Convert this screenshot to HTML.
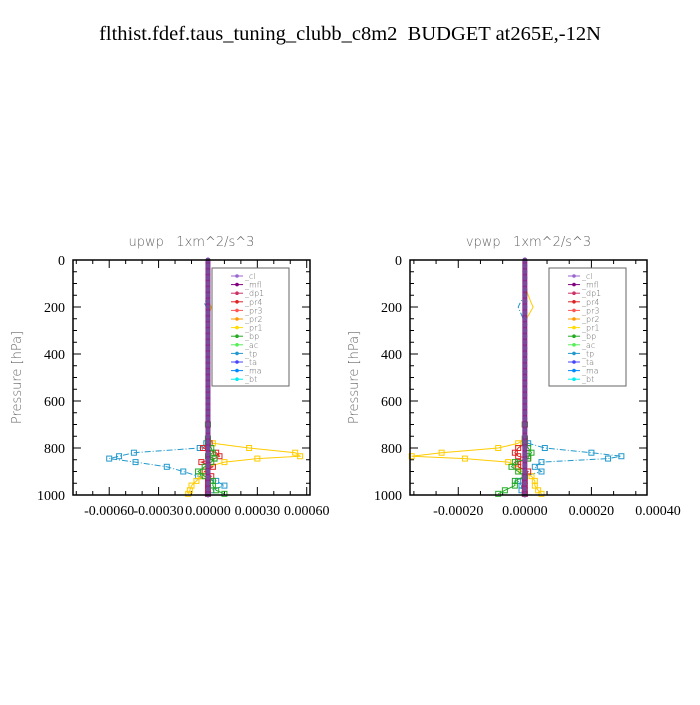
<!DOCTYPE html>
<html><head><meta charset="utf-8"><style>
body{margin:0;background:#fff}
svg text{font-family:"Liberation Serif",serif;white-space:pre}
.s{font-family:"DejaVu Sans","Liberation Sans",sans-serif;fill:#666;font-weight:200}
</style></head><body>
<svg id="c" width="700" height="700" xmlns="http://www.w3.org/2000/svg">
<text x="350" y="40" text-anchor="middle" font-size="20.5">flthist.fdef.taus_tuning_clubb_c8m2  BUDGET at265E,-12N</text>
</svg>
<script>
const levels=[0,50,100,150,185,200,250,300,400,500,600,700,760,780,800,820,835,845,860,880,900,920,940,960,980,995];
const legendNames=["_cl","_mfl","_dp1","_pr4","_pr3","_pr2","_pr1","_bp","_ac","_tp","_ta","_ma","_bt"];
const legendColors=["#9966cc","#800080","#cc3366","#dd2222","#ff5555","#ff9900","#ffdd00","#22aa22","#55ee55","#2299cc","#4444ff","#0088ff","#00eeee"];
const upTp=[0,0,0,0,-0.00002,-0.00001,0,0,0,0,0,0,0,-0.00001,-0.00005,-0.00045,-0.00054,-0.0006,-0.00044,-0.00025,-0.00015,-0.00006,0.00005,0.0001,0.00002,0];
const upPr1=[0,0,0,0,0.00001,0.00002,0,0,0,0,0,0,0,0.00003,0.00025,0.00053,0.00056,0.0003,0.0001,0,-0.00002,-0.00004,-0.00007,-0.0001,-0.00011,-0.00012];
const upPr4=[0,0,0,0,0,0,0,0,0,0,0,0,0,0.00001,-0.00003,0.00005,0.00007,0.00004,-0.00004,0.00003,-0.00002,0.00002,0,0,0,0];
const upBp=[0,0,0,0,0,0,0,0,0,0,0,0,0,0,0.00002,0.00003,0,0.00004,0.00002,-0.00002,-0.00006,-0.00002,0.00003,0.00003,0.00005,0.0001];
const vpTp=[0,0,0,0,-0.000015,-0.00002,-0.000005,0.000005,0,0,0,0,0,0.00001,0.00006,0.0002,0.00029,0.00025,0.00005,0.00003,0.00005,0.0,-0.00002,-0.00001,-0.00001,0];
const vpPr1=[0,0,0,0.00001,0.00002,0.000025,0.000005,-0.000005,0,0,0,0,0,-0.00002,-0.00008,-0.00025,-0.00034,-0.00018,-0.00005,-0.00002,-0.00001,0.00002,0.00003,0.00003,0.00004,0.00005];
const vpPr4=[0,0,0,0,0,0,0,0,0,0,0,0,0,0,-0.00002,-0.00003,-0.00002,0.00001,-0.00002,-0.00002,0.00001,0,0,0,0,0];
const vpBp=[0,0,0,0,0,0,0,0,0,0,0,0,0,0,0.00001,0.00002,0.00001,0.00001,-0.00003,-0.00004,-0.00002,0,-0.00003,-0.00003,-0.00006,-0.00008];
const upTicks=[-0.0006,-0.0003,0,0.0003,0.0006], upLabels=["-0.00060","-0.00030","0.00000","0.00030","0.00060"];
const vpTicks=[-0.0002,0,0.0002,0.0004], vpLabels=["-0.00020","0.00000","0.00020","0.00040"];
const yTicks=[0,200,400,600,800,1000];
const NS="http://www.w3.org/2000/svg", svg=document.getElementById('c');
function mk(t,a,p){const e=document.createElementNS(NS,t);for(const k in a)e.setAttribute(k,a[k]);(p||svg).appendChild(e);return e;}
function panel(name,x0,x1,xmin,xmax,ticks,labels,series,title){
  const y0=260,y1=495;
  const X=v=>x0+(v-xmin)/(xmax-xmin)*(x1-x0), Y=p=>y0+p/1000*(y1-y0);
  const g=mk('g',{});
  
  
  const t=mk('text',{x:(x0+x1)/2,y:246,'text-anchor':'middle','font-size':13,class:'s'},g);t.textContent=title;
  
  const yl=mk('text',{x:0,y:0,transform:`translate(${x0-52},${(y0+y1)/2}) rotate(-90)`,'text-anchor':'middle','font-size':13,class:'s'},g);yl.textContent='Pressure [hPa]';
  
  for(let p=0;p<=1000;p+=50){const L=p%200==0?8:4;mk('line',{x1:x0,x2:x0+L,y1:Y(p),y2:Y(p),stroke:'#000'},g);mk('line',{x1:x1,x2:x1-L,y1:Y(p),y2:Y(p),stroke:'#000'},g);}
  yTicks.forEach(p=>{const tt=mk('text',{x:x0-8,y:Y(p)+5,'text-anchor':'end','font-size':14},g);tt.textContent=p;
    });
  const step=(ticks[1]-ticks[0])/3;
  for(let v=ticks[0]-3*step;v<=xmax+1e-12;v+=step){if(v<xmin-1e-12)continue;const maj=Math.abs(Math.round((v-ticks[0])/step)%3)==0;const L=maj?8:4;
    mk('line',{x1:X(v),x2:X(v),y1:y0,y2:y0+L,stroke:'#000'},g);mk('line',{x1:X(v),x2:X(v),y1:y1,y2:y1-L,stroke:'#000'},g);}
  ticks.forEach((v,i)=>{const tt=mk('text',{x:X(v),y:y1+20,'text-anchor':'middle','font-size':14},g);tt.textContent=labels[i];
    });
  series.forEach(s=>{const pts=s.v.map((v,i)=>X(v)+','+Y(levels[i])).join(' ');
    const pl=mk('polyline',{points:pts,fill:'none',stroke:s.c,'stroke-width':1,'stroke-dasharray':s.d||''},g);
    
    s.v.forEach((v,i)=>{if(levels[i]<700)return;const m=mk('rect',{x:X(v)-2.5,y:Y(levels[i])-2.5,width:5,height:5,fill:'none',stroke:s.c},g);
      });
  });
  mk('rect',{x:X(0)-2.5,y:y0,width:5,height:y1-y0,fill:'#8a2a8a'},g);
  for(let p=0;p<=1000;p+=25){mk('circle',{cx:X(0),cy:Y(p),r:2.5,fill:'#7a4a9a'},g);}
  mk('rect',{x:x0,y:y0,width:x1-x0,height:y1-y0,fill:'none',stroke:'#000','stroke-width':1.5},g);
  const lg=mk('g',{},g);
  const lx=x0+139;
  mk('rect',{x:lx,y:268,width:77,height:118,fill:'#fff',stroke:'#666'},lg);
  legendNames.forEach((n,i)=>{const yy=276+i*8.6;
    mk('line',{x1:lx+19,x2:lx+31,y1:yy,y2:yy,stroke:legendColors[i]},lg);
    mk('circle',{cx:lx+25,cy:yy,r:1.8,fill:legendColors[i]},lg);
    const tt=mk('text',{x:lx+33,y:yy+3,'font-size':8,class:'s'},lg);tt.textContent=n;
    });
}
panel('upwp',73,310,-0.00082,0.00062,upTicks,upLabels,
 [{n:'tp',v:upTp,c:'#2299cc',d:'6,2,1,2'},{n:'pr1',v:upPr1,c:'#ffcc00'},{n:'pr4',v:upPr4,c:'#dd2222'},{n:'bp',v:upBp,c:'#22aa22'}],'upwp   1xm^2/s^3');
panel('vpwp',410,647,-0.000345,0.000367,vpTicks,vpLabels,
 [{n:'tp',v:vpTp,c:'#2299cc',d:'6,2,1,2'},{n:'pr1',v:vpPr1,c:'#ffcc00'},{n:'pr4',v:vpPr4,c:'#dd2222'},{n:'bp',v:vpBp,c:'#22aa22'}],'vpwp   1xm^2/s^3');
</script>
</body></html>
